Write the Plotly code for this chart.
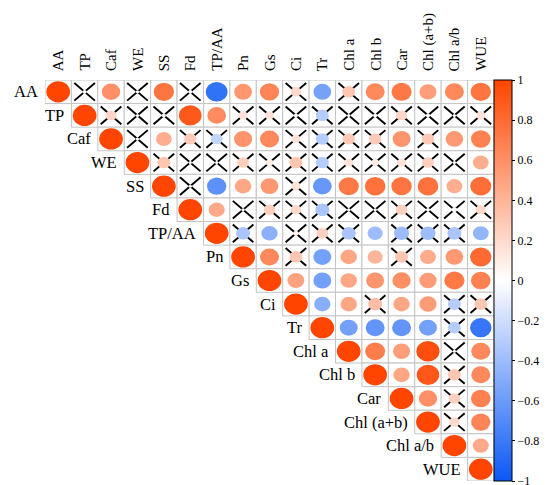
import plotly.graph_objects as go
from plotly.colors import sample_colorscale

variables = ["AA", "TP", "Caf", "WE", "SS", "Fd", "TP/AA", "Pn", "Gs", "Ci", "Tr",
             "Chl a", "Chl b", "Car", "Chl (a+b)", "Chl a/b", "WUE"]

# correlations of each row with the columns to the right of its diagonal
corr_AA = [0.03, 0.60, 0.02, 0.74, 0.03, -0.84, 0.56, 0.66, 0.20, -0.56, 0.30, 0.64, 0.72, 0.52, 0.64, 0.74]
corr_TP = [0.22, 0.02, 0.03, 0.90, 0.62, 0.15, 0.15, 0.03, -0.30, 0.02, 0.03, 0.22, 0.03, 0.02, 0.15]
corr_Caf = [0.02, 0.44, 0.28, -0.25, 0.58, 0.64, 0.15, -0.30, 0.28, 0.28, 0.57, 0.28, 0.55, 0.68]
corr_WE = [0.30, 0.02, 0.02, 0.25, 0.10, 0.30, -0.30, 0.15, 0.10, 0.15, 0.25, 0.02, 0.44]
corr_SS = [0.02, -0.66, 0.48, 0.56, 0.15, -0.62, 0.72, 0.76, 0.74, 0.76, 0.44, 0.78]
corr_Fd = [0.46, 0.02, 0.25, 0.20, -0.35, 0.02, 0.02, 0.25, 0.03, 0.05, 0.20]
corr_TPAA = [-0.35, -0.47, 0.05, 0.25, -0.35, -0.40, -0.40, -0.40, -0.35, -0.44]
corr_Pn = [0.64, 0.30, -0.57, 0.48, 0.40, 0.30, 0.45, 0.55, 0.80]
corr_Gs = [0.50, -0.57, 0.48, 0.57, 0.60, 0.53, 0.72, 0.68]
corr_Ci = [-0.48, 0.48, 0.35, 0.48, 0.53, -0.30, 0.30]
corr_Tr = [-0.57, -0.64, -0.64, -0.57, -0.30, -0.82]
corr_Chla = [0.70, 0.52, 0.95, 0.02, 0.64]
corr_Chlb = [0.48, 0.90, 0.30, 0.64]
corr_Car = [0.60, 0.25, 0.68]
corr_Chlab = [0.20, 0.66]
corr_Chlratio = [0.46]
corr_WUE = []

upper_rows = [corr_AA, corr_TP, corr_Caf, corr_WE, corr_SS, corr_Fd, corr_TPAA, corr_Pn,
              corr_Gs, corr_Ci, corr_Tr, corr_Chla, corr_Chlb, corr_Car, corr_Chlab,
              corr_Chlratio, corr_WUE]

# non-significant pairs (crossed cells), per row
ns_AA = ["TP", "WE", "Fd", "Ci", "Chl a"]
ns_TP = ["Caf", "WE", "SS", "Pn", "Gs", "Ci", "Tr", "Chl a", "Chl b", "Car", "Chl (a+b)", "Chl a/b", "WUE"]
ns_Caf = ["WE", "Fd", "TP/AA", "Ci", "Tr", "Chl a", "Chl b", "Chl (a+b)"]
ns_WE = ["SS", "Fd", "TP/AA", "Pn", "Gs", "Ci", "Tr", "Chl a", "Chl b", "Car", "Chl (a+b)", "Chl a/b"]
ns_SS = ["Fd", "Ci"]
ns_Fd = ["Pn", "Gs", "Ci", "Tr", "Chl a", "Chl b", "Car", "Chl (a+b)", "Chl a/b", "WUE"]
ns_TPAA = ["Pn", "Ci", "Tr", "Chl a", "Car", "Chl (a+b)", "Chl a/b"]
ns_Pn = ["Ci", "Car"]
ns_Gs = []
ns_Ci = ["Chl b", "Chl a/b", "WUE"]
ns_Tr = ["Chl a/b"]
ns_Chla = ["Chl a/b"]
ns_Chlb = ["Chl a/b"]
ns_Car = ["Chl a/b"]
ns_Chlab = ["Chl a/b"]
ns_Chlratio = []
ns_WUE = []
ns_rows = [ns_AA, ns_TP, ns_Caf, ns_WE, ns_SS, ns_Fd, ns_TPAA, ns_Pn, ns_Gs, ns_Ci, ns_Tr,
           ns_Chla, ns_Chlb, ns_Car, ns_Chlab, ns_Chlratio, ns_WUE]

cbar_vals = [1, 0.8, 0.6, 0.4, 0.2, 0, -0.2, -0.4, -0.6, -0.8, -1]
cbar_text = ["1", "0.8", "0.6", "0.4", "0.2", "0", "\u22120.2", "\u22120.4", "\u22120.6", "\u22120.8", "\u22121"]

colorscale = [[0.0, "#0A58F5"], [0.5, "#FFFFFF"], [1.0, "#FF4500"]]
FONT = "Liberation Serif, Times New Roman, serif"
n = len(variables)

shapes = []
# grid cells
for i in range(n):
    for j in range(i, n):
        shapes.append(dict(type="rect", xref="x", yref="y", x0=j - 0.5, x1=j + 0.5,
                           y0=i - 0.5, y1=i + 0.5, line=dict(color="#C4C4C4", width=1),
                           fillcolor="white", layer="below"))
# circles (radius ~ sqrt|r|)
for i in range(n):
    vals = [1.0] + upper_rows[i]
    for k, r in enumerate(vals):
        j = i + k
        rad = 0.45 * abs(r) ** 0.5
        col = sample_colorscale(colorscale, [(r + 1) / 2])[0]
        shapes.append(dict(type="circle", xref="x", yref="y", x0=j - rad, x1=j + rad,
                           y0=i - rad, y1=i + rad, line=dict(width=0), fillcolor=col,
                           layer="above"))

# crosses
cx, cy = [], []
hx, hy = 0.39, 0.375
for i in range(n):
    for name in ns_rows[i]:
        j = variables.index(name)
        cx += [j - hx, j + hx, None, j - hx, j + hx, None]
        cy += [i - hy, i + hy, None, i + hy, i - hy, None]

fig = go.Figure()
fig.add_trace(go.Scatter(x=cx, y=cy, mode="lines", line=dict(color="black", width=1.9),
                         hoverinfo="skip", showlegend=False))
fig.add_trace(go.Scatter(
    x=[0], y=[0], mode="markers", hoverinfo="skip", showlegend=False,
    marker=dict(size=0.1, color=[0], colorscale=colorscale, cmin=-1, cmax=1, showscale=True,
                colorbar=dict(x=1.0, xanchor="left", xpad=0, ypad=0,
                              y=0.5, yanchor="middle", len=1, lenmode="fraction",
                              thickness=18, outlinecolor="black", outlinewidth=1,
                              tickvals=cbar_vals, ticktext=cbar_text, ticks="outside",
                              ticklen=3, tickcolor="black",
                              tickfont=dict(family=FONT, size=12, color="black")))))

annotations = []
for j, name in enumerate(variables):
    annotations.append(dict(x=j, y=-0.5, xref="x", yref="y", text=name, showarrow=False,
                            textangle=-90, xanchor="center", yanchor="bottom", yshift=7,
                            font=dict(family=FONT, size=15, color="black")))
for i, name in enumerate(variables):
    annotations.append(dict(x=i - 0.5, y=i, xref="x", yref="y", text=name, showarrow=False,
                            xanchor="right", yanchor="middle", xshift=-5,
                            font=dict(family=FONT, size=16.5, color="black")))

fig.update_layout(
    width=550, height=485, paper_bgcolor="white", plot_bgcolor="white",
    margin=dict(l=37, r=64, t=72, b=12, autoexpand=False),
    xaxis=dict(range=[-0.5, n - 0.5], visible=False, fixedrange=True),
    yaxis=dict(range=[n - 0.5, -0.5], visible=False, fixedrange=True),
    shapes=shapes, annotations=annotations, showlegend=False,
)
fig.write_html("out.html")
